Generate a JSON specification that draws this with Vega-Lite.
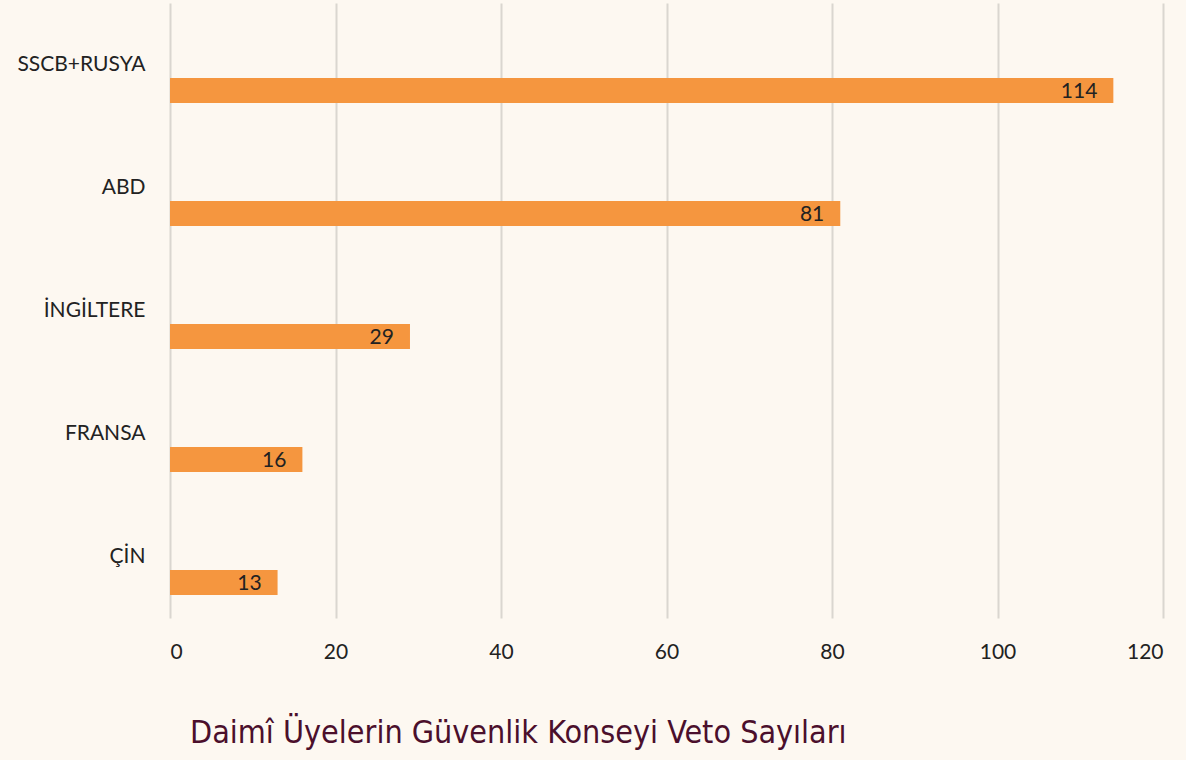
{
  "$schema": "https://vega.github.io/schema/vega-lite/v6.json",
  "autosize": "none",
  "width": 993,
  "height": 615,
  "padding": {"left": 170, "top": 3, "right": 23, "bottom": 142},
  "background": "#fdf8f1",
  "config": {"view": {"stroke": null}, "font": "Lato"},
  "title": {
    "text": "Daimî Üyelerin Güvenlik Konseyi Veto Sayıları",
    "orient": "bottom",
    "anchor": "start",
    "frame": "group",
    "dx": 20,
    "offset": 56,
    "font": "DejaVu Sans Condensed",
    "fontSize": 32,
    "fontWeight": "normal",
    "color": "#4b0f2c"
  },
  "data": {
    "values": [
      {"ulke": "SSCB+RUSYA", "veto": 114},
      {"ulke": "ABD", "veto": 81},
      {"ulke": "İNGİLTERE", "veto": 29},
      {"ulke": "FRANSA", "veto": 16},
      {"ulke": "ÇİN", "veto": 13}
    ]
  },
  "encoding": {
    "y": {
      "field": "ulke",
      "type": "nominal",
      "sort": null,
      "scale": {"paddingInner": 0, "paddingOuter": 0},
      "axis": {
        "title": null,
        "domain": false,
        "ticks": false,
        "labelPadding": 25,
        "labelFontSize": 21,
        "labelColor": "#222222",
        "labelFont": "Lato"
      }
    },
    "x": {
      "field": "veto",
      "type": "quantitative",
      "scale": {"domain": [0, 120], "nice": false},
      "axis": {
        "title": null,
        "values": [0, 20, 40, 60, 80, 100, 120],
        "domain": false,
        "ticks": false,
        "grid": true,
        "gridColor": "#dad6d0",
        "gridWidth": 2,
        "labelPadding": 23,
        "labelFontSize": 21,
        "labelColor": "#222222",
        "labelFont": "Lato"
      }
    }
  },
  "layer": [
    {
      "mark": {"type": "bar", "height": 25, "yOffset": 26, "color": "#f5963f"}
    },
    {
      "mark": {
        "type": "text",
        "align": "right",
        "baseline": "middle",
        "dx": -16,
        "yOffset": 27,
        "fontSize": 21,
        "color": "#222222",
        "font": "Lato"
      },
      "encoding": {"text": {"field": "veto", "type": "quantitative"}}
    }
  ]
}
